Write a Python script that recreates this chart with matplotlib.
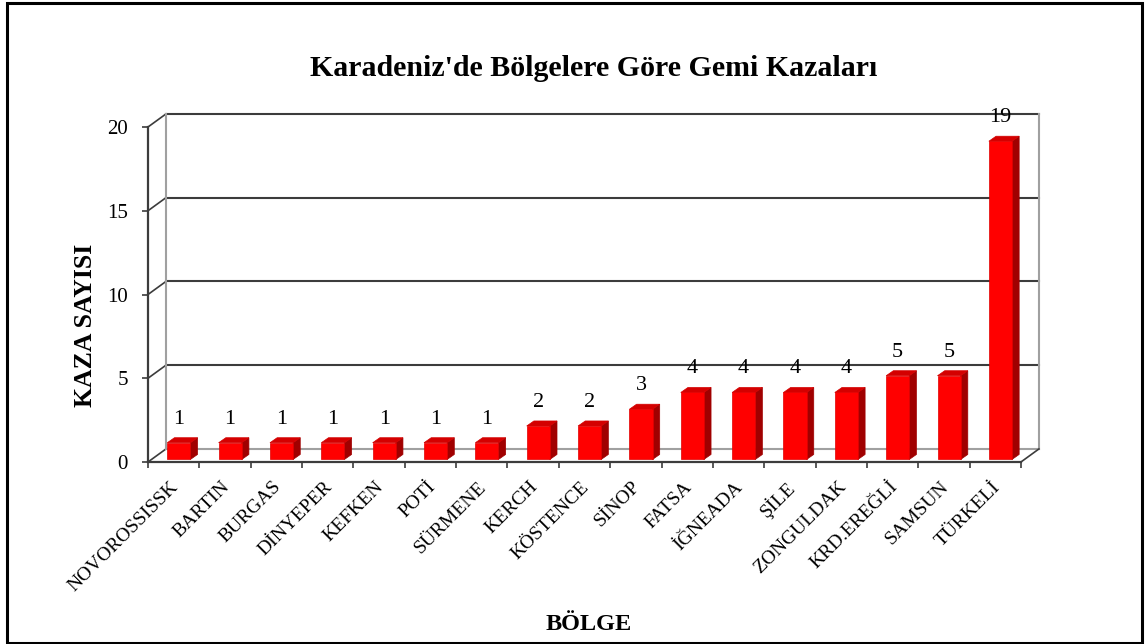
import numpy as np
import matplotlib.pyplot as plt
from matplotlib.patches import Polygon, Rectangle
from matplotlib.transforms import ScaledTranslation

# data
regions = ["NOVOROSSISSK", "BARTIN", "BURGAS", "DİNYEPER", "KEFKEN", "POTİ",
           "SÜRMENE", "KERCH", "KÖSTENCE", "SİNOP", "FATSA", "İĞNEADA", "ŞİLE",
           "ZONGULDAK", "KRD.EREĞLİ", "SAMSUN", "TÜRKELİ"]
accidents = [1, 1, 1, 1, 1, 1, 1, 2, 2, 3, 4, 4, 4, 4, 5, 5, 19]
y_ticks = [0, 5, 10, 15, 20]

title = "Karadeniz'de Bölgelere Göre Gemi Kazaları"
x_title = "BÖLGE"
y_title = "KAZA SAYISI"

plt.rcParams['font.family'] = ['Liberation Serif', 'DejaVu Serif']

# fake 3d depth of the wall (in data units)
DX, DY = 0.35, 0.78
# bar placement inside the depth
BX, BY = 0.1, 0.15
BDX, BDY = 0.14, 0.3
W = 0.45

n = len(regions)
fig = plt.figure(figsize=(11.46, 6.44), dpi=100)
ax = fig.add_axes([148 / 1146, 182 / 644, (n + DX) * 51.35 / 1146, (20 + DY) * 16.75 / 644])
ax.set_xlim(-0.5, n - 0.5 + DX)
ax.set_ylim(0, 20 + DY)
for s in ax.spines.values():
    s.set_visible(False)

grid_c = '#3c3c3c'
wall_c = '#a0a0a0'
x0, x1 = -0.5, n - 0.5
# back wall gridlines and left side diagonals
for v in y_ticks:
    c = wall_c if v == 0 else grid_c
    ax.plot([x0 + DX, x1 + DX], [v + DY, v + DY], color=c, lw=1.5, clip_on=False, zorder=1)
    ax.plot([x0, x0 + DX], [v, v + DY], color=grid_c, lw=1.2, clip_on=False, zorder=1)
ax.plot([x0 + DX, x0 + DX], [DY, 20 + DY], color=wall_c, lw=1.5, clip_on=False, zorder=1)
ax.plot([x1 + DX, x1 + DX], [DY, 20 + DY], color=wall_c, lw=1.5, clip_on=False, zorder=1)
ax.plot([x1, x1 + DX], [0, DY], color=grid_c, lw=1.2, clip_on=False, zorder=1)

# front axes
ax.plot([x0, x0], [0, 20], color=grid_c, lw=1.6, clip_on=False, zorder=5)
ax.plot([x0, x1], [0, 0], color=grid_c, lw=1.6, clip_on=False, zorder=5)

# bars
for i, v in enumerate(accidents):
    bx0 = i - W / 2 + BX
    bx1 = i + W / 2 + BX
    top = v + BY
    ax.add_patch(Polygon([(bx1, BY), (bx1 + BDX, BY + BDY), (bx1 + BDX, top + BDY), (bx1, top)],
                         closed=True, facecolor='#a00000', edgecolor='#a00000', lw=0.5, zorder=3))
    ax.add_patch(Polygon([(bx0, top), (bx1, top), (bx1 + BDX, top + BDY), (bx0 + BDX, top + BDY)],
                         closed=True, facecolor='#d40000', edgecolor='#d40000', lw=0.5, zorder=3))
    ax.add_patch(Rectangle((bx0, BY), W, v, facecolor='#ff0000', edgecolor='#e00000', lw=0.5, zorder=4))
    ax.annotate(str(v), (i + BX, top), xytext=(0, 17), textcoords='offset points',
                ha='center', va='center', fontsize=16)

# ticks
ax.set_yticks(y_ticks)
ax.set_yticklabels([str(v) for v in y_ticks], fontsize=15)
ax.tick_params(axis='y', direction='out', length=4.5, width=1.2, color=grid_c, pad=10)
ax.set_xticks(range(n))
ax.set_xticklabels(regions, rotation=45, ha='right', va='center', rotation_mode='anchor', fontsize=14)
ax.tick_params(axis='x', which='major', length=0, pad=16)
ax.set_xticks(np.arange(-0.5, n, 1.0), minor=True)
ax.tick_params(axis='x', which='minor', direction='out', length=4, width=1.2, color=grid_c)
off = ScaledTranslation(1.5 / 72, 0, fig.dpi_scale_trans)
for lab in ax.get_xticklabels():
    lab.set_transform(lab.get_transform() + off)

fig.text(594 / 1146, 1 - 68 / 644, title, ha='center', va='center', fontsize=21.5, fontweight='bold')
fig.text(589 / 1146, 1 - 625 / 644, x_title, ha='center', va='center', fontsize=17.5, fontweight='bold')
fig.text(85 / 1146, 1 - 325 / 644, y_title, ha='center', va='center', rotation=90, fontsize=18.5, fontweight='bold')

# outer frame
fig.add_artist(Rectangle((7 / 1146, 1 / 644), 1135 / 1146, 640 / 644, transform=fig.transFigure,
                         fill=False, edgecolor='black', lw=2.2))

fig.savefig('out.png', dpi=100)
